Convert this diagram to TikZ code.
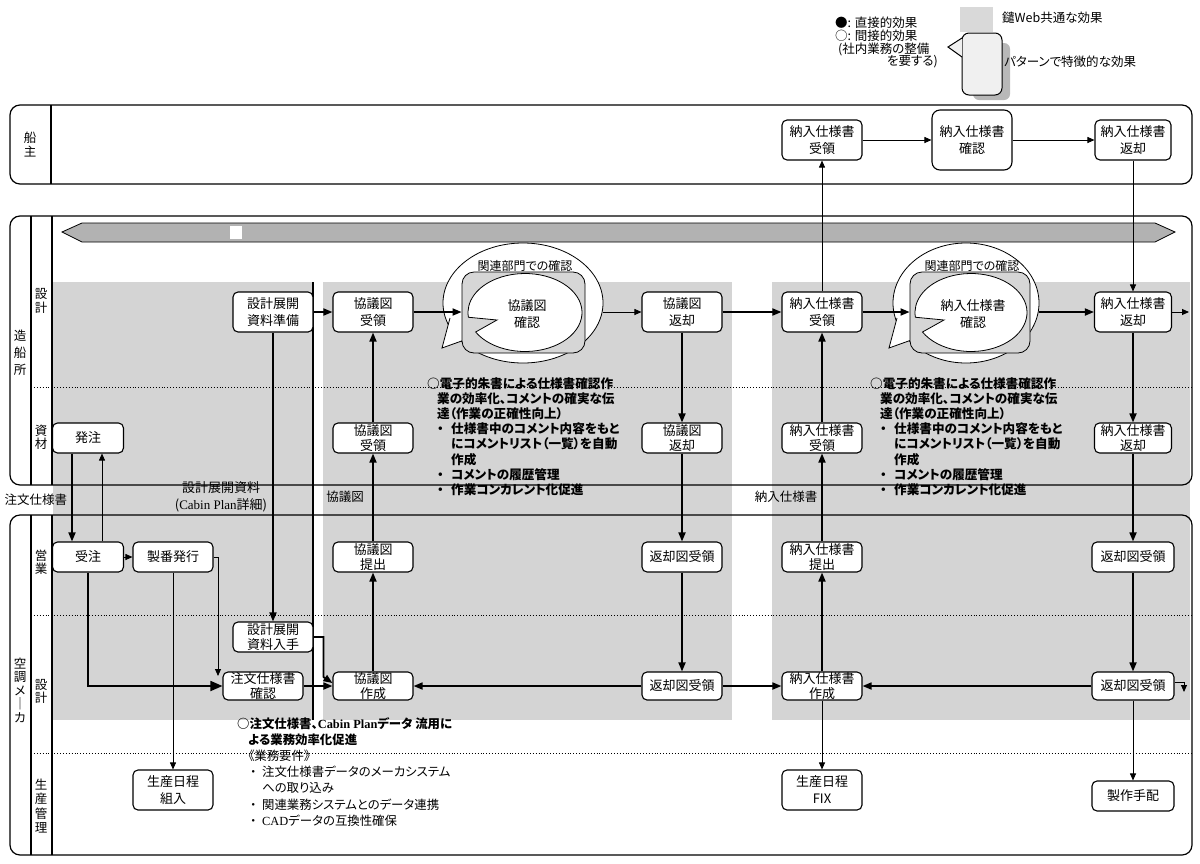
\documentclass[tikz,border=0pt]{standalone}
\usepackage{fontspec}
\setmainfont{Noto Sans CJK JP}[RawFeature=+palt]
\newfontfamily\lserif{Liberation Serif}
\usetikzlibrary{arrows.meta,shapes.geometric,calc}
\begin{document}
\begin{tikzpicture}[x=1pt,y=-1pt]
\tikzset{
  bx/.style={draw, line width=1.1pt, rounded corners=5pt, fill=white, align=center, inner sep=0pt, minimum width=80pt, minimum height=40pt, font=\fontsize{13}{17}\selectfont},
  bxs/.style={bx, minimum height=30pt, font=\fontsize{13}{14.5}\selectfont},
  lane/.style={draw, line width=1.2pt, rounded corners=10pt},
  sep/.style={line width=1.1pt},
  dotl/.style={dotted, line width=0.9pt},
  thk/.style={-{Triangle[length=9pt,width=7pt]}, line width=1.7pt},
  thn/.style={-{Triangle[length=7pt,width=6pt]}, line width=0.9pt},
  lbl/.style={align=center, inner sep=0pt, font=\fontsize{12.5}{14}\selectfont},
  shade/.style={fill=black!17},
  txt/.style={inner sep=0pt, align=left, anchor=north west},
  cyc/.style={line width=0.8pt},
}
\useasboundingbox (0,0) rectangle (1200,863);
\fill[white] (0,0) rectangle (1200,863);

% ---------- legend ----------
\node[lbl, anchor=west, font=\fontsize{12.5}{14}\selectfont] (lg1) at (835,23) {●: 直接的効果};
\node[lbl, anchor=west, font=\fontsize{12.5}{14}\selectfont] (lg2) at (835,36) {○: 間接的効果};
\node[lbl, anchor=west, font=\fontsize{12.5}{14}\selectfont] (lg3) at (838,49) {(社内業務の整備};
\node[lbl, anchor=east, font=\fontsize{12.5}{14}\selectfont] (lg4) at (938,62) {を要する)};
\fill[black!15] (960,7) rectangle (993,32);
\node[lbl, anchor=west, font=\fontsize{12.5}{14}\selectfont] (lg5) at (1002,18) {鑓Web共通な効果};
\fill[black!28, rounded corners=6pt] (973,43) rectangle (1010,100);
\draw[line width=1pt, fill=black!6, rounded corners=7pt] (962,62) -- (962,33) -- (1002,33) -- (1002,95) -- (962,95) -- (962,57);
\fill[black!6] (962,38) -- (948,47) -- (962,57) -- cycle;
\draw[line width=1pt] (962,38) -- (948,47) -- (962,57);
\node[lbl, anchor=west, font=\fontsize{12.5}{14}\selectfont] (lg6) at (1004,62) {パターンで特徴的な効果};

% ---------- shaded phases ----------
\fill[shade] (53,282) rectangle (313,720);
\fill[shade] (323,282) rectangle (732,720);
\fill[shade] (772,282) rectangle (1190,720);
\draw[sep] (313,282) -- (313,720);

% ---------- lanes ----------
\draw[lane] (10,105) rectangle (1192,184);
\draw[sep] (51,105) -- (51,184);
\draw[lane] (10,216) rectangle (1192,485);
\draw[sep] (31,216) -- (31,485);
\draw[sep] (52,216) -- (52,485);
\draw[dotl] (31,387) -- (1192,387);
\draw[lane] (10,515) rectangle (1192,855);
\draw[sep] (31,515) -- (31,855);
\draw[sep] (52,515) -- (52,855);
\draw[dotl] (31,615) -- (1192,615);
\draw[dotl] (31,753) -- (1192,753);

\node[lbl] (lOwner) at (30,145) {船\\主};
\node[lbl, font=\fontsize{12.5}{17}\selectfont] (lYard) at (20,353) {造\\船\\所};
\node[lbl, font=\fontsize{12.5}{13.5}\selectfont] (lYardD) at (41,301) {設\\計};
\node[lbl, font=\fontsize{12.5}{13.5}\selectfont] (lYardM) at (41,437) {資\\材};
\node[lbl, font=\fontsize{12.5}{13.5}\selectfont] (lMaker) at (20,690) {空\\調\\メ\\｜\\カ};
\node[lbl, font=\fontsize{12.5}{13.5}\selectfont] (lSales) at (41,562) {営\\業};
\node[lbl, font=\fontsize{12.5}{13}\selectfont] (lMakerD) at (41,691) {設\\計};
\node[lbl, font=\fontsize{12.5}{14.5}\selectfont] (lProd) at (41,806) {生\\産\\管\\理};

% banner
\draw[fill=black!30, line width=0.8pt] (62,232) -- (82,223) -- (1155,223) -- (1175,232) -- (1155,242) -- (82,242) -- cycle;
\fill[white] (230,226) rectangle (242,239);

% ---------- confirmation cycles ----------
\node[ellipse, draw, cyc, fill=white, minimum width=160pt, minimum height=120pt, inner sep=0pt] (cycLo) at (523,303) {};
\fill[white] (450,318) -- (442,348) -- (470,338) -- cycle;
\draw[cyc] (450,318) -- (442,348) -- (470,338);
\node[draw, cyc, fill=black!16, rounded corners=12pt, minimum width=123pt, minimum height=81pt, inner sep=0pt] (cycL) at (523.5,312.5) {};
\draw[cyc, fill=white] ($(525,312.5)+(210:57pt and 39pt)$) arc[start angle=210, end angle=547, x radius=57pt, y radius=39pt] -- (497,320) -- cycle;
\node[align=center, inner sep=0pt, font=\fontsize{13}{17}\selectfont] (cycLt) at (527,314) {協議図\\確認};
\node[inner sep=0pt, font=\fontsize{12}{14}\selectfont] (cycLl) at (525,266) {関連部門での確認};

\node[ellipse, draw, cyc, fill=white, minimum width=146pt, minimum height=120pt, inner sep=0pt] (cycRo) at (966,303) {};
\fill[white] (897,318) -- (889,348) -- (917,338) -- cycle;
\draw[cyc] (897,318) -- (889,348) -- (917,338);
\node[draw, cyc, fill=black!16, rounded corners=12pt, minimum width=120pt, minimum height=81pt, inner sep=0pt] (cycR) at (970,312.5) {};
\draw[cyc, fill=white] ($(971,312.5)+(210:56pt and 39pt)$) arc[start angle=210, end angle=547, x radius=56pt, y radius=39pt] -- (944,320) -- cycle;
\node[align=center, inner sep=0pt, font=\fontsize{13}{17}\selectfont] (cycRt) at (973,314) {納入仕様書\\確認};
\node[inner sep=0pt, font=\fontsize{12}{14}\selectfont] (cycRl) at (972,266) {関連部門での確認};

% ---------- notes ----------
\node[txt, font=\bfseries\fontsize{12.6}{15.2}\selectfont] (noteL) at (427,377) {○電子的朱書による仕様書確認作\\
\hspace*{10pt}業の効率化、コメントの確実な伝\\
\hspace*{10pt}達（作業の正確性向上）\\
\hspace*{10pt}\makebox[14pt][l]{・}仕様書中のコメント内容をもと\\
\hspace*{24pt}にコメントリスト（一覧）を自動\\
\hspace*{24pt}作成\\
\hspace*{10pt}\makebox[14pt][l]{・}コメントの履歴管理\\
\hspace*{10pt}\makebox[14pt][l]{・}作業コンカレント化促進};
\node[txt, font=\bfseries\fontsize{12.6}{15.2}\selectfont] (noteR) at (870,377) {○電子的朱書による仕様書確認作\\
\hspace*{10pt}業の効率化、コメントの確実な伝\\
\hspace*{10pt}達（作業の正確性向上）\\
\hspace*{10pt}\makebox[14pt][l]{・}仕様書中のコメント内容をもと\\
\hspace*{24pt}にコメントリスト（一覧）を自動\\
\hspace*{24pt}作成\\
\hspace*{10pt}\makebox[14pt][l]{・}コメントの履歴管理\\
\hspace*{10pt}\makebox[14pt][l]{・}作業コンカレント化促進};
\node[txt, font=\fontsize{12.4}{16.2}\selectfont] (noteB) at (237,717) {\textbf{○注文仕様書、{\lserif\bfseries Cabin Plan}データ 流用に}\\
\hspace*{11pt}\textbf{よる業務効率化促進}\\
\hspace*{11pt}《業務要件》\\
\hspace*{13pt}\makebox[12pt][l]{・}注文仕様書データのメーカシステム\\
\hspace*{25pt}への取り込み\\
\hspace*{13pt}\makebox[12pt][l]{・}関連業務システムとのデータ連携\\
\hspace*{13pt}\makebox[12pt][l]{・}{\lserif CAD}データの互換性確保};

% flow labels between lanes
\node[lbl, font=\fontsize{12.5}{14}\selectfont] (fl1) at (36,500) {注文仕様書};
\node[lbl, font=\fontsize{13}{17}\selectfont] (fl2) at (221,497) {設計展開資料\\({\lserif Cabin Plan}詳細)};
\node[lbl, font=\fontsize{12.5}{14}\selectfont] (fl3) at (345,497) {協議図};
\node[lbl, font=\fontsize{12.5}{14}\selectfont] (fl4) at (786,497) {納入仕様書};

% ---------- nodes ----------
\node[bx] (oRecv) at (822,140) {納入仕様書\\受領};
\node[bx, minimum height=60pt, rounded corners=8pt] (oConf) at (972,140) {納入仕様書\\確認};
\node[bx, minimum width=76pt] (oRet) at (1133,140) {納入仕様書\\返却};

\node[bx] (sPrep) at (273,312) {設計展開\\資料準備};
\node[bx] (sKRecv) at (373,312) {協議図\\受領};
\node[bx] (sKRet) at (682,312) {協議図\\返却};
\node[bx] (sNRecv) at (822,312) {納入仕様書\\受領};
\node[bx, minimum width=77pt] (sNRet) at (1133,312) {納入仕様書\\返却};

\node[bxs, minimum width=71pt] (hatchu) at (88,438) {発注};
\node[bxs] (mKRecv) at (373,438) {協議図\\受領};
\node[bxs] (mKRet) at (682,438) {協議図\\返却};
\node[bxs] (mNRecv) at (822,438) {納入仕様書\\受領};
\node[bxs, minimum width=77pt] (mNRet) at (1133,438) {納入仕様書\\返却};

\node[bxs, minimum width=71pt] (juchu) at (88,557) {受注};
\node[bxs] (seiban) at (173,557) {製番発行};
\node[bxs] (eKTei) at (373,557) {協議図\\提出};
\node[bxs] (eHK) at (682,557) {返却図受領};
\node[bxs] (eNTei) at (822,557) {納入仕様書\\提出};
\node[bxs, minimum width=82pt] (eHK2) at (1133,557) {返却図受領};

\node[bxs] (dNyushu) at (273,637) {設計展開\\資料入手};
\node[bxs, minimum height=28pt] (dChumon) at (263,686) {注文仕様書\\確認};
\node[bxs, minimum height=28pt] (dKSaku) at (373,686) {協議図\\作成};
\node[bxs, minimum height=28pt] (dHK) at (682,686) {返却図受領};
\node[bxs, minimum height=28pt] (dNSaku) at (822,686) {納入仕様書\\作成};
\node[bxs, minimum height=28pt, minimum width=82pt] (dHK2) at (1133,686) {返却図受領};

\node[bx] (pKumi) at (173,790) {生産日程\\組入};
\node[bx] (pFix) at (822,790) {生産日程\\FIX};
\node[bxs, minimum width=82pt] (pSeisaku) at (1133,796) {製作手配};

\coordinate (sbEnd) at (218,676);
\coordinate (stub1) at (1189,312);
\coordinate (stub2a) at (1184,682);
\coordinate (stub2) at (1184,692);

% ---------- connectors ----------
\draw[thk] ([xshift=-16pt]hatchu.south) -- ([xshift=-16pt]juchu.north);
\draw[thn] ([xshift=14pt]juchu.north) -- ([xshift=14pt]hatchu.south);
\draw[thn] (juchu.east) -- (seiban.west);
\draw[thk, -{Triangle[length=12pt,width=10pt]}] (juchu.south) |- (dChumon.west);
\draw[thn] (seiban.south) -- (pKumi.north);
\draw[thn] (seiban.east) -| (sbEnd);
\draw[thk] (sPrep.south) -- (dNyushu.north);
\draw[thk] (sPrep.east) -- (sKRecv.west);
\draw[thk] (dNyushu.east) -- ++(10,0) -- ++(0,40) -- ([yshift=3pt]dKSaku.west);
\draw[thk] (dChumon.east) -- (dKSaku.west);
\draw[thk] (dKSaku.north) -- (eKTei.south);
\draw[thk] (eKTei.north) -- (mKRecv.south);
\draw[thk] (mKRecv.north) -- (sKRecv.south);
\draw[thk] (sKRecv.east) -- (cycL.west |- sKRecv);
\draw[thn] (cycLo.east |- sKRet) -- (sKRet.west);
\draw[thk] (sKRet.east) -- (sNRecv.west);
\draw[thk] (sKRet.south) -- (mKRet.north);
\draw[thk] (mKRet.south) -- (eHK.north);
\draw[thk] (eHK.south) -- (dHK.north);
\draw[thk] (dHK.west) -- (dKSaku.east);
\draw[thk] (dHK.east) -- (dNSaku.west);
\draw[thk] (dNSaku.north) -- (eNTei.south);
\draw[thk] (eNTei.north) -- (mNRecv.south);
\draw[thk] (mNRecv.north) -- (sNRecv.south);
\draw[thn] (sNRecv.north) -- (oRecv.south);
\draw[thn] (oRecv.east) -- (oConf.west);
\draw[thn] (oConf.east) -- (oRet.west);
\draw[thn] (oRet.south) -- (sNRet.north);
\draw[thk] (sNRecv.east) -- (cycR.west |- sNRecv);
\draw[thk] (cycRo.east |- sNRet) -- (sNRet.west);
\draw[thn] (sNRet.east) -- (stub1);
\draw[thk] (sNRet.south) -- (mNRet.north);
\draw[thk] (mNRet.south) -- (eHK2.north);
\draw[thk] (eHK2.south) -- (dHK2.north);
\draw[thk] (dHK2.west) -- (dNSaku.east);
\draw[thn] (dHK2.south) -- (pSeisaku.north);
\draw[thn] (dNSaku.south) -- (pFix.north);
\draw[thn] (dHK2.east |- stub2a) -- (stub2a) -- (stub2);
\end{tikzpicture}
\end{document}
